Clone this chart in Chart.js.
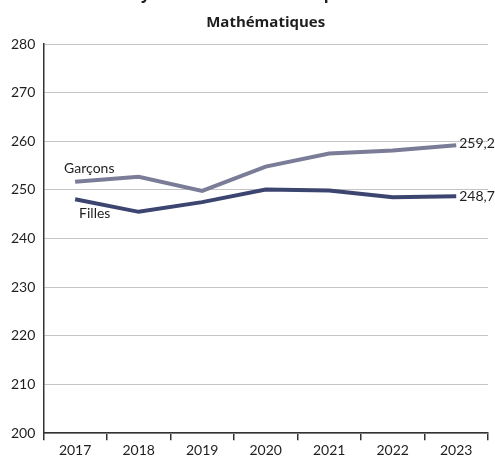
<!DOCTYPE html>
<html>
<head>
<meta charset="utf-8">
<script src="https://cdn.jsdelivr.net/npm/chart.js@4"></script>
<style>
  html, body { margin: 0; padding: 0; background: #fff; }
  #wrap { width: 495px; height: 461px; position: relative; }
</style>
</head>
<body>
<div id="wrap"><canvas id="myChart"></canvas></div>
<script>
const annees = ['2017', '2018', '2019', '2020', '2021', '2022', '2023'];
const garcons = [251.7, 252.7, 249.8, 254.8, 257.5, 258.1, 259.2];
const filles = [248.1, 245.5, 247.5, 250.1, 249.9, 248.5, 248.7];
const yTicks = [200, 210, 220, 230, 240, 250, 260, 270, 280];

const couleurGarcons = '#7b7c97';
const couleurFilles = '#3c4470';
const police = 'Lato, "Noto Sans", sans-serif';
const policeTitre = '"Open Sans", "Noto Sans", sans-serif';

// titres et étiquettes de séries dessinés à la main
const etiquettes = {
    id: 'etiquettes',
    afterDraw(chart) {
        const c = chart.ctx;
        const area = chart.chartArea;
        const cx = (area.left + area.right) / 2;
        c.save();
        c.fillStyle = '#1e1e1e';
        c.textBaseline = 'alphabetic';
        // titre principal, rogné par le haut du cadre
        c.font = 'bold 16px ' + policeTitre;
        c.textAlign = 'left';
        const titre = 'Évolution du score moyen des élèves du CM1 par sexe';
        const debut = c.measureText('Évolution du score mo').width;
        c.fillText(titre, 141 - debut, -1);
        c.textAlign = 'center';
        c.font = 'bold 15px ' + policeTitre;
        c.fillText('Mathématiques', cx, 27);

        c.font = '14px ' + police;
        c.textAlign = 'left';
        const g = chart.getDatasetMeta(0).data;
        const f = chart.getDatasetMeta(1).data;
        c.textBaseline = 'bottom';
        c.fillText('Garçons', g[0].x - 11, g[0].y - 6);
        c.textBaseline = 'top';
        c.fillText('Filles', f[0].x + 4, f[0].y + 7);
        c.textBaseline = 'middle';
        const n = annees.length - 1;
        c.fillText(garcons[n].toFixed(1).replace('.', ','), g[n].x + 3, g[n].y - 2);
        c.fillText(filles[n].toFixed(1).replace('.', ','), f[n].x + 3, f[n].y);
        c.restore();
    }
};

Chart.defaults.font.family = police;
Chart.defaults.font.size = 14;
Chart.defaults.color = '#1e1e1e';

const ctx = document.getElementById('myChart').getContext('2d');
new Chart(ctx, {
    type: 'line',
    data: {
        labels: annees,
        datasets: [{
            label: 'Garçons',
            data: garcons,
            borderColor: couleurGarcons,
            borderWidth: 4,
            pointRadius: 0,
            tension: 0
        }, {
            label: 'Filles',
            data: filles,
            borderColor: couleurFilles,
            borderWidth: 4,
            pointRadius: 0,
            tension: 0
        }]
    },
    options: {
        responsive: true,
        maintainAspectRatio: false,
        animation: false,
        layout: { padding: { top: 44, right: 7, left: 3, bottom: 0 } },
        plugins: {
            legend: { display: false },
            tooltip: { enabled: false }
        },
        scales: {
            x: {
                offset: true,
                grid: {
                    offset: true,
                    drawOnChartArea: false,
                    drawTicks: true,
                    tickLength: 7,
                    color: '#333',
                    lineWidth: 1.5
                },
                border: { color: '#333', width: 1.5 },
                ticks: { padding: 2, maxRotation: 0 }
            },
            y: {
                min: 200,
                max: 280,
                afterBuildTicks(axis) {
                    axis.ticks = yTicks.map(v => ({ value: v }));
                },
                grid: {
                    color: '#c4c4c4',
                    lineWidth: 1,
                    drawTicks: false
                },
                border: { color: '#333', width: 1.5 },
                ticks: { padding: 8 }
            }
        }
    },
    plugins: [etiquettes]
});
</script>
</body>
</html>
